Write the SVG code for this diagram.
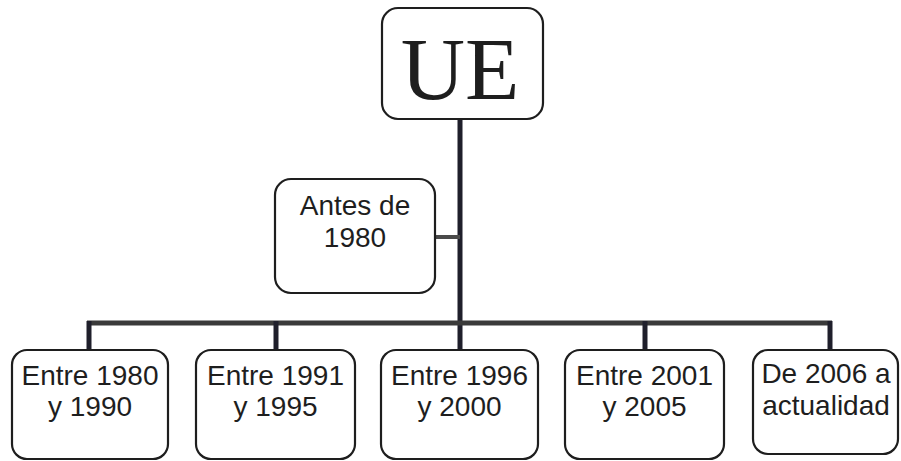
<svg xmlns="http://www.w3.org/2000/svg" width="901" height="461" viewBox="0 0 901 461">
<style>
.box{fill:#fff;stroke:#1e1e1e;stroke-width:2.2}
.t{font-family:"Liberation Sans",Arial,sans-serif;font-size:28px;fill:#1e1e1e;text-anchor:middle}
.ue{font-family:"Liberation Serif","Times New Roman",serif;font-size:89px;fill:#1e1e1e;text-anchor:middle}
.c{stroke:#1f1f2b;stroke-width:5;fill:none}
.c2{stroke:#4a4a4a;stroke-width:4;fill:none}
</style>
<rect width="901" height="461" fill="#fff"/>
<g id="connectors">
<line class="c" x1="460" y1="118" x2="460" y2="351"/>
<line class="c2" x1="435" y1="237" x2="460" y2="237"/>
<line class="c2" x1="87" y1="323" x2="832" y2="323" style="stroke-width:5;stroke:#3a3a3a"/>
<line class="c" x1="89" y1="321" x2="89" y2="351"/>
<line class="c" x1="276" y1="321" x2="276" y2="351"/>
<line class="c" x1="645" y1="321" x2="645" y2="351"/>
<line class="c" x1="830" y1="321" x2="830" y2="351"/>
</g>
<g id="ue">
<rect class="box" x="382" y="8" width="161" height="111" rx="16"/>
<text class="ue" x="460" y="99">UE</text>
</g>
<g id="antes">
<rect class="box" x="275" y="179" width="160" height="114" rx="16"/>
<text class="t" x="355" y="215">Antes de</text>
<text class="t" x="355" y="247">1980</text>
</g>
<g id="n1">
<rect class="box" x="12" y="350" width="156" height="109" rx="15"/>
<text class="t" x="90" y="385">Entre 1980</text>
<text class="t" x="90" y="416">y 1990</text>
</g>
<g id="n2">
<rect class="box" x="196" y="350" width="159" height="109" rx="15"/>
<text class="t" x="275.5" y="385">Entre 1991</text>
<text class="t" x="275.5" y="416">y 1995</text>
</g>
<g id="n3">
<rect class="box" x="381" y="350" width="157" height="109" rx="15"/>
<text class="t" x="459.5" y="385">Entre 1996</text>
<text class="t" x="459.5" y="416">y 2000</text>
</g>
<g id="n4">
<rect class="box" x="565" y="350" width="159" height="109" rx="15"/>
<text class="t" x="644.5" y="385">Entre 2001</text>
<text class="t" x="644.5" y="416">y 2005</text>
</g>
<g id="n5">
<rect class="box" x="753" y="350" width="145" height="104" rx="15"/>
<text class="t" x="826" y="383">De 2006 a</text>
<text class="t" x="826" y="415">actualidad</text>
</g>
</svg>
